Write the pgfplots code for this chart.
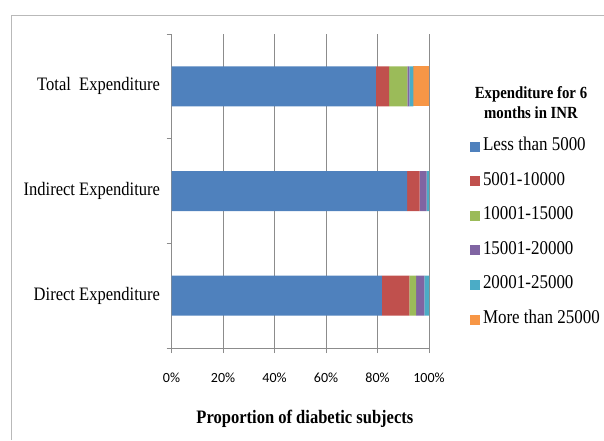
\documentclass[border=0pt]{standalone}
\usepackage{pgfplots}
\pgfplotsset{compat=1.18}
\usepackage{fontspec}
\setmainfont{Liberation Serif}[FakeStretch=0.87]
\newfontfamily\calfont{Carlito}
\definecolor{cA}{HTML}{4F81BD}
\definecolor{cB}{HTML}{C0504D}
\definecolor{cC}{HTML}{9BBB59}
\definecolor{cD}{HTML}{8064A2}
\definecolor{cE}{HTML}{4BACC6}
\definecolor{cF}{HTML}{F79646}
\definecolor{gridc}{HTML}{8C8C8C}
\begin{document}
\begin{tikzpicture}
\useasboundingbox (0pt,0pt) rectangle (604pt,440pt);
\draw[gray!55, line width=0.8pt] (11pt,0pt) -- (11pt,425pt) -- (604pt,425pt);
\begin{axis}[
  at={(171.5pt,92pt)}, anchor=south west,
  scale only axis, width=257.5pt, height=314pt,
  xbar stacked, bar width=40pt,
  xmin=0, xmax=100, ymin=-0.5, ymax=2.5,
  axis lines*=left,
  axis line style={gridc, line width=0.8pt},
  tick align=outside, major tick length=5pt,
  tick style={gridc, line width=0.8pt},
  xtick={0,20,40,60,80,100},
  xticklabels={0\%,20\%,40\%,60\%,80\%,100\%},
  xticklabel style={font=\calfont\fontsize{14}{16}\selectfont, yshift=-16pt},
  xmajorgrids=true,
  major grid style={gridc, line width=0.8pt},
  ytick={-0.5,0.5,1.5,2.5}, yticklabels={},
  extra y ticks={0,1,2},
  extra y tick labels={Direct Expenditure, Indirect Expenditure, Total\ \ Expenditure},
  extra y tick style={major tick length=0pt},
  yticklabel style={font=\fontsize{19}{22}\selectfont, anchor=east, xshift=-8pt},
  xlabel={Proportion of diabetic subjects},
  xlabel style={font=\bfseries\fontsize{19}{22}\selectfont, at={(axis description cs:0.518,-0.241)}, anchor=base},
  legend style={draw=none, fill=none, inner sep=0pt, at={(1.1565,0.366)}, anchor=west,
    font=\fontsize{19.5}{22}\selectfont, row sep=18.6pt,
    nodes={inner sep=0pt, text height=12pt, text depth=4pt},
    /tikz/every odd column/.style={column sep=3.5pt}},
  legend cell align=left,
  legend image code/.code={\fill[#1] (0pt,-5pt) rectangle (10pt,5pt);},
]
\addplot[fill=cA, draw=none] coordinates {(81.7,0) (91.5,1) (79.4,2)};
\addplot[fill=cB, draw=none] coordinates {(10.7,0) (4.9,1) (5.1,2)};
\addplot[fill=cC, draw=none] coordinates {(2.6,0) (0,1) (7.1,2)};
\addplot[fill=cD, draw=none] coordinates {(3.2,0) (2.7,1) (0.8,2)};
\addplot[fill=cE, draw=none] coordinates {(1.8,0) (0.9,1) (1.5,2)};
\addplot[fill=cF, draw=none] coordinates {(0,0) (0,1) (6.1,2)};
\legend{Less than 5000, 5001-10000, 10001-15000, 15001-20000, 20001-25000, More than 25000}
\end{axis}
\node[align=center, font=\bfseries\fontsize{17}{20}\selectfont] at (531pt,337pt) {Expenditure for 6\\months in INR};
\end{tikzpicture}
\end{document}
